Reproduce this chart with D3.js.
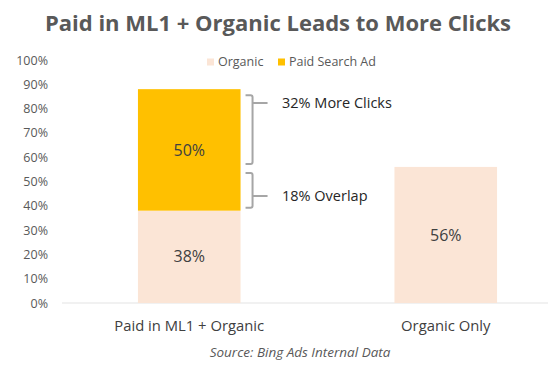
<!DOCTYPE html>
<html>
<head>
<meta charset="utf-8">
<script src="https://cdn.jsdelivr.net/npm/d3@7"></script>
<style>
  body { margin: 0; background: #fff; }
  svg { display: block; font-family: 'Open Sans', sans-serif; }
</style>
</head>
<body>
<svg></svg>
<script>
let categories = ['Paid in ML1 + Organic', 'Organic Only']
let organic = [38, 56]
let paid = [50, 0]
let seriesNames = ['Organic', 'Paid Search Ad']
let yTicks = [0, 10, 20, 30, 40, 50, 60, 70, 80, 90, 100]
let brackets = [
  { from: 56, to: 88, label: '32% More Clicks' },
  { from: 38, to: 56, label: '18% Overlap' }
]

window.addEventListener('DOMContentLoaded', () => {
  let svgWidth = 555
  let svgHeight = 369
  let colors = ['#fbe5d6', '#ffc000']

  let svg = d3.select('svg')
      .attr('width', svgWidth)
      .attr('height', svgHeight)

  let data = categories.map((c, i) => ({ category: c, Organic: organic[i], 'Paid Search Ad': paid[i] }))
  let stacked = d3.stack().keys(seriesNames)(data)

  /* Scales */
  let xScale = d3.scaleBand()
                  .domain(categories)
                  .range([61, 574])
                  .paddingInner(0.6)
                  .paddingOuter(0.3)

  let yScale = d3.scaleLinear()
                  .domain([0, 100])
                  .range([303, 60])

  /* Title */
  svg.append('text')
      .attr('x', 278)
      .attr('y', 31)
      .text('Paid in ML1 + Organic Leads to More Clicks')
      .style('text-anchor', 'middle')
      .style('font-size', '22px')
      .style('font-weight', 'bold')
      .style('fill', '#595959')

  /* y-axis */
  let yAxis = d3.axisLeft(yScale)
                .tickValues(yTicks)
                .tickFormat(d => d + '%')
                .tickSize(0)
                .tickPadding(0)

  svg.append('g')
      .attr('transform', 'translate(48, 0)')
      .call(yAxis)
      .call(g => g.select('.domain').remove())
    .selectAll('text')
      .style('font-family', "'Open Sans', sans-serif")
      .style('font-size', '12.5px')
      .style('fill', '#595959')

  /* baseline */
  svg.append('line')
      .attr('x1', 62)
      .attr('x2', 548)
      .attr('y1', yScale(0))
      .attr('y2', yScale(0))
      .attr('stroke', '#e3e3e3')
      .attr('stroke-width', 1)

  /* Stacked bars */
  svg.selectAll('.series')
    .data(stacked)
    .enter()
    .append('g')
      .classed('series', true)
      .attr('fill', (d, i) => colors[i])
    .selectAll('rect')
    .data(d => d.filter(p => p[1] > p[0]))
    .enter()
    .append('rect')
      .attr('x', d => xScale(d.data.category))
      .attr('y', d => yScale(d[1]))
      .attr('width', xScale.bandwidth())
      .attr('height', d => yScale(d[0]) - yScale(d[1]))

  /* Bar labels */
  stacked.forEach(s => {
    s.filter(p => p[1] > p[0]).forEach(p => {
      svg.append('text')
          .attr('x', xScale(p.data.category) + xScale.bandwidth() / 2)
          .attr('y', yScale((p[0] + p[1]) / 2))
          .attr('dy', '0.35em')
          .text((p[1] - p[0]) + '%')
          .style('text-anchor', 'middle')
          .style('font-size', '16px')
          .style('fill', '#404040')
    })
  })

  /* x-axis labels */
  svg.selectAll('.xLabel')
    .data(categories)
    .enter()
    .append('text')
      .classed('xLabel', true)
      .attr('x', d => xScale(d) + xScale.bandwidth() / 2)
      .attr('y', 326)
      .attr('dy', '0.35em')
      .text(d => d)
      .style('text-anchor', 'middle')
      .style('font-size', '14.8px')
      .style('fill', '#404040')

  /* Source note */
  svg.append('text')
      .attr('x', 300)
      .attr('y', 352)
      .attr('dy', '0.35em')
      .text('Source: Bing Ads Internal Data')
      .style('text-anchor', 'middle')
      .style('font-size', '13.5px')
      .style('font-style', 'italic')
      .style('fill', '#595959')

  /* Legend */
  let legendX = [207, 278]
  let legend = svg.selectAll('.legend')
    .data(seriesNames)
    .enter()
    .append('g')
      .classed('legend', true)
      .attr('transform', (d, i) => `translate(${legendX[i]}, 62)`)

  legend.append('rect')
      .attr('x', 0)
      .attr('y', -3.5)
      .attr('width', 7)
      .attr('height', 7)
      .attr('fill', (d, i) => colors[i])

  legend.append('text')
      .attr('x', 11)
      .attr('dy', '0.35em')
      .text(d => d)
      .style('font-size', '12.5px')
      .style('fill', '#595959')

  /* Brackets */
  let bx = xScale(categories[0]) + xScale.bandwidth()
  let labelY = [103, 196]
  brackets.forEach((b, i) => {
    let top = yScale(b.to) + 6
    let bottom = yScale(b.from) - 3
    let mid = labelY[i]
    let x0 = bx + 5
    let x1 = bx + 12
    let path = d3.path()
    path.moveTo(x0, top)
    path.lineTo(x1 - 2, top)
    path.quadraticCurveTo(x1, top, x1, top + 2)
    path.lineTo(x1, bottom - 2)
    path.quadraticCurveTo(x1, bottom, x1 - 2, bottom)
    path.lineTo(x0, bottom)
    path.moveTo(x1, mid)
    path.lineTo(x1 + 15, mid)
    svg.append('path')
        .attr('d', path.toString())
        .attr('fill', 'none')
        .attr('stroke', '#a6a6a6')
        .attr('stroke-width', 2)

    svg.append('text')
        .attr('x', 282)
        .attr('y', mid)
        .attr('dy', '0.35em')
        .text(b.label)
        .style('font-size', '14.5px')
        .style('fill', '#262626')
  })
})
</script>
</body>
</html>
